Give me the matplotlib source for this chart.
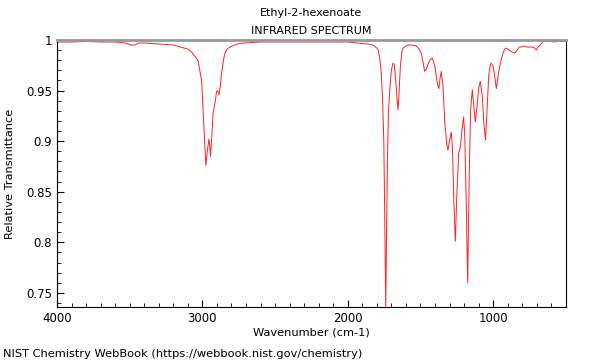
import matplotlib
matplotlib.use('Agg')
import matplotlib.pyplot as plt
from matplotlib.ticker import MultipleLocator, FuncFormatter

# spectrum: wavenumber (cm-1) and relative transmittance
# (rows of ten so both lists stay in step)
wavenumber = [4000, 3900, 3800, 3700, 3600, 3530, 3490, 3464, 3440, 3400,
              3300, 3200, 3150, 3100, 3080, 3063, 3031, 3005, 2990, 2976,
              2966, 2955, 2949, 2944, 2935, 2926, 2910, 2903, 2895, 2885,
              2876, 2868, 2855, 2845, 2830, 2810, 2780, 2742, 2600, 2400,
              2200, 2000, 1918, 1860, 1826, 1800, 1790, 1780, 1769, 1760,
              1752, 1745, 1739, 1733, 1727, 1720, 1711, 1700, 1689, 1680,
              1670, 1660, 1654, 1648, 1638, 1628, 1620, 1600, 1585, 1560,
              1528, 1510, 1494, 1482, 1471, 1460, 1448, 1435, 1420, 1413,
              1400, 1390, 1380, 1373, 1365, 1357, 1345, 1333, 1320, 1311,
              1300, 1288, 1280, 1270, 1260, 1250, 1237, 1224, 1215, 1203,
              1195, 1185, 1175, 1165, 1155, 1143, 1133, 1123, 1110, 1100,
              1088, 1075, 1062, 1052, 1040, 1030, 1020, 1013, 1000, 990,
              978, 965, 950, 932, 920, 909, 890, 870, 852, 835,
              820, 806, 790, 770, 750, 730, 715, 704, 690, 675,
              660, 646, 620, 580, 540, 508, 500]
transmittance = [0.998, 0.998, 0.9985, 0.998, 0.998, 0.997, 0.995, 0.995, 0.997, 0.997,
                 0.996, 0.995, 0.993, 0.991, 0.989, 0.986, 0.980, 0.960, 0.915, 0.876,
                 0.89, 0.902, 0.895, 0.885, 0.905, 0.928, 0.94, 0.949, 0.95, 0.946,
                 0.955, 0.967, 0.98, 0.987, 0.991, 0.993, 0.995, 0.9967, 0.998, 0.998,
                 0.998, 0.998, 0.9967, 0.996, 0.995, 0.992, 0.99, 0.982, 0.967, 0.94,
                 0.9, 0.82, 0.7365, 0.81, 0.88, 0.93, 0.951, 0.97, 0.977, 0.976,
                 0.96, 0.94, 0.931, 0.945, 0.974, 0.988, 0.992, 0.994, 0.995, 0.995,
                 0.994, 0.991, 0.987, 0.978, 0.969, 0.971, 0.976, 0.98, 0.982, 0.98,
                 0.974, 0.963, 0.955, 0.952, 0.962, 0.969, 0.955, 0.92, 0.898, 0.891,
                 0.9, 0.909, 0.895, 0.84, 0.801, 0.845, 0.888, 0.895, 0.91, 0.924,
                 0.905, 0.84, 0.760, 0.86, 0.93, 0.951, 0.935, 0.919, 0.935, 0.952,
                 0.959, 0.945, 0.915, 0.901, 0.935, 0.965, 0.975, 0.977, 0.974, 0.965,
                 0.952, 0.965, 0.977, 0.987, 0.991, 0.992, 0.99, 0.988, 0.987, 0.99,
                 0.993, 0.993, 0.994, 0.993, 0.993, 0.993, 0.992, 0.99, 0.993, 0.995,
                 0.998, 0.999, 0.999, 0.998, 0.999, 0.999, 0.999]

fig = plt.figure(figsize=(6, 3.6), dpi=100)
ax = fig.add_axes([0.095, 0.147, 0.848, 0.742])
ax.plot(wavenumber, transmittance, color='#ff2020', linewidth=0.7)

ax.set_xlim(4000, 500)
ax.set_ylim(0.736, 1.0)
ax.xaxis.set_major_locator(MultipleLocator(1000))
ax.xaxis.set_minor_locator(MultipleLocator(100))
ax.yaxis.set_major_locator(MultipleLocator(0.05))
ax.yaxis.set_minor_locator(MultipleLocator(0.01))
ax.yaxis.set_major_formatter(FuncFormatter(lambda v, p: '%g' % round(v, 2)))
ax.tick_params(which='both', direction='in', top=False, right=False, labelsize=8.5)
ax.tick_params(which='major', length=5)
ax.tick_params(which='minor', length=3)
ax.spines['top'].set_color('#999999')
ax.spines['top'].set_linewidth(2)

ax.set_xlabel('Wavenumber (cm-1)', fontsize=8.2, labelpad=2)
ax.set_ylabel('Relative Transmittance', fontsize=8.2, labelpad=8)
ax.set_title('Ethyl-2-hexenoate\nINFRARED SPECTRUM', fontsize=8, pad=4, linespacing=2.1)
fig.text(0.005, 0.008, 'NIST Chemistry WebBook (https://webbook.nist.gov/chemistry)', fontsize=8.2)

fig.savefig('out.png', dpi=100)
